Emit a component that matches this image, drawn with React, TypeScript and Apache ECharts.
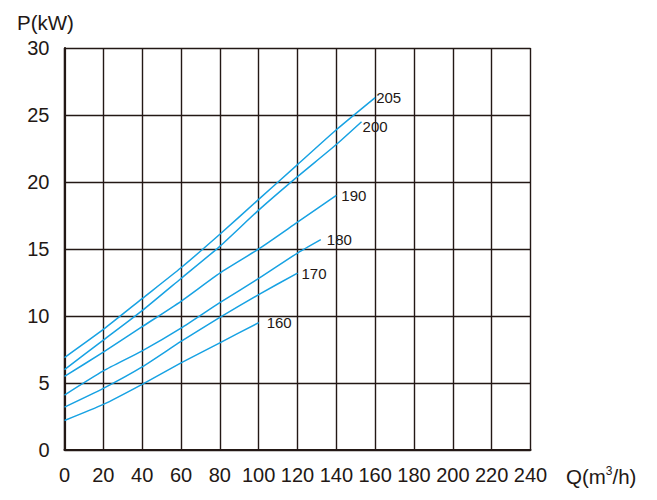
import React, { useEffect, useRef } from "react";
import * as echarts from "echarts";

const xTicks = [0, 20, 40, 60, 80, 100, 120, 140, 160, 180, 200, 220, 240];
const yTicks = [0, 5, 10, 15, 20, 25, 30];

const curveNames = ["205", "200", "190", "180", "170", "160"];
const q205 = [0, 20, 40, 60, 80, 100, 120, 140, 160];
const p205 = [6.9, 9.0, 11.3, 13.6, 16.1, 18.7, 21.3, 23.9, 26.3];
const q200 = [0, 20, 40, 60, 80, 100, 120, 140, 153];
const p200 = [6.0, 8.2, 10.4, 12.8, 15.2, 17.9, 20.4, 22.8, 24.5];
const q190 = [0, 20, 40, 60, 80, 100, 120, 140];
const p190 = [5.5, 7.3, 9.2, 11.1, 13.2, 15.0, 17.0, 19.0];
const q180 = [0, 20, 40, 60, 80, 100, 120, 132];
const p180 = [4.1, 5.9, 7.4, 9.1, 11.0, 12.8, 14.7, 15.7];
const q170 = [0, 20, 40, 60, 80, 100, 120];
const p170 = [3.2, 4.6, 6.2, 8.1, 9.9, 11.6, 13.2];
const q160 = [0, 20, 40, 60, 80, 100];
const p160 = [2.2, 3.4, 4.9, 6.5, 8.0, 9.5];

const curveQ = [q205, q200, q190, q180, q170, q160];
const curveP = [p205, p200, p190, p180, p170, p160];
const labelOffsets: number[][] = [
  [1, 0],
  [1, 5],
  [5, 0],
  [6, 0],
  [4, 0],
  [8, 0],
];

const INK = "#231815";
const BLUE = "#17A2E3";
const FONT = "'Liberation Sans', Arial, sans-serif";

export default function App() {
  const ref = useRef<HTMLDivElement>(null);
  useEffect(() => {
    if (!ref.current) return;
    const chart = echarts.init(ref.current, null, { renderer: "svg" });
    const series = curveNames.map((name, i) => ({
      name,
      type: "line",
      data: curveQ[i].map((q, j) => [q, curveP[i][j]]),
      showSymbol: false,
      symbol: "none",
      smooth: 0.2,
      lineStyle: { color: BLUE, width: 1.5 },
      endLabel: {
        show: true,
        formatter: name,
        color: INK,
        fontSize: 15,
        fontFamily: FONT,
        distance: 0,
        offset: labelOffsets[i],
      },
      z: 3,
    }));
    chart.setOption({
      animation: false,
      grid: { left: 64.5, right: 126.5, top: 48, bottom: 50, containLabel: false },
      xAxis: {
        type: "value",
        min: 0,
        max: 240,
        interval: 20,
        axisLine: { show: true, lineStyle: { color: INK, width: 2.2 } },
        axisTick: { show: false },
        splitLine: { show: true, lineStyle: { color: INK, width: 1.4 } },
        axisLabel: {
          margin: 15,
          fontSize: 20,
          color: INK,
          fontFamily: FONT,
          formatter: (v: number) => (xTicks.includes(v) ? String(v) : ""),
        },
      },
      yAxis: {
        type: "value",
        min: 0,
        max: 30,
        interval: 5,
        axisLine: { show: true, lineStyle: { color: INK, width: 2.2 } },
        axisTick: { show: false },
        splitLine: { show: true, lineStyle: { color: INK, width: 1.4 } },
        axisLabel: {
          margin: 15,
          fontSize: 20,
          color: INK,
          fontFamily: FONT,
          formatter: (v: number) => (yTicks.includes(v) ? String(v) : ""),
        },
      },
      graphic: [
        {
          type: "text",
          left: 17,
          top: 12,
          style: { text: "P(kW)", fontSize: 20.5, fill: INK, fontFamily: FONT },
        },
        {
          type: "text",
          left: 566,
          top: 465,
          style: {
            text: "Q(m{sup|3}/h)",
            fontSize: 20.5,
            fill: INK,
            fontFamily: FONT,
            rich: {
              sup: { fontSize: 12, verticalAlign: "top", padding: [0, 0, 10, 0], fontFamily: FONT, fill: INK },
            },
          },
        },
      ],
      series,
    });
    return () => chart.dispose();
  }, []);
  return (
    <div
      ref={ref}
      style={{ position: "absolute", left: 0, top: 0, width: 657, height: 500, background: "#fff" }}
    />
  );
}
